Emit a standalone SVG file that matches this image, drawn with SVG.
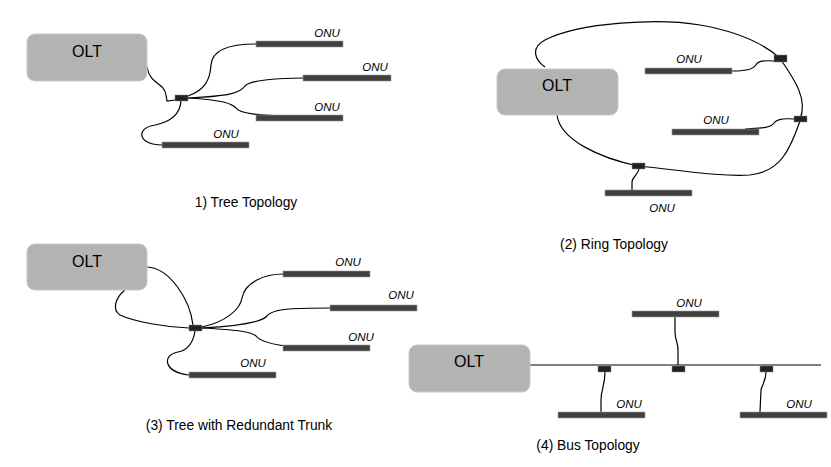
<svg xmlns="http://www.w3.org/2000/svg" width="831" height="467" viewBox="0 0 831 467">
<style>
.olt{fill:#b3b3b3;stroke:#c8c8c8;stroke-width:1}
.olt-t{font-family:"Liberation Sans",Arial,sans-serif;font-size:16px;fill:#000;text-anchor:middle}
.bar{fill:#404040;stroke:#9a9a9a;stroke-width:0.6}
.spl{fill:#222;stroke:#888;stroke-width:0.5}
.onu{font-family:"Liberation Sans",Arial,sans-serif;font-size:11.5px;font-style:italic;fill:#000;text-anchor:middle}
.cap{font-family:"Liberation Sans",Arial,sans-serif;font-size:13.8px;fill:#000;text-anchor:middle}
.ln{fill:none;stroke:#000;stroke-width:1.2}
</style>
<rect width="831" height="467" fill="#fff"/>
<g id="connectors">
<!-- panel 1 -->
<path class="ln" d="M147,67 C150,85 164,82 166,95 L167,101 L175,100"/>
<path class="ln" d="M188,96 C205,90 210,80 211,65 C212,50 230,44 256,44"/>
<path class="ln" d="M188,98 C230,96 240,93 245,86 C250,80 280,78 303,78"/>
<path class="ln" d="M188,98 C225,100 232,104 236,108 C240,114 260,115 283,116"/>
<path class="ln" d="M181,101 C180,115 170,122 155,125 C135,128 138,145 162,145"/>
<!-- panel 2 ring -->
<path class="ln" d="M545,67 C535,60 530,48 545,40 C580,22 660,18 700,25 C740,32 765,45 780,58"/>
<path class="ln" d="M781,60 C795,80 808,100 800,119"/>
<path class="ln" d="M800,121 C790,150 780,172 750,175 C720,177 680,170 638,166"/>
<path class="ln" d="M638,166 C600,158 560,140 557,115"/>
<path class="ln" d="M774,61 C760,60 757,62 755,66 C752,70 742,71 732,71"/>
<path class="ln" d="M794,119 C780,118 776,120 773,124 C770,128 760,128 745,129"/>
<path class="ln" d="M639,169 C638,175 632,177 632,182 L632,190"/>
<!-- panel 3 -->
<path class="ln" d="M147,267 C170,268 190,300 193,325"/>
<path class="ln" d="M125,290 C115,298 112,310 120,315 C135,322 165,327 189,328"/>
<path class="ln" d="M202,327 C225,322 240,310 242,298 C245,282 265,274 283,274"/>
<path class="ln" d="M202,328 C240,326 262,322 267,316 C272,308 300,308 330,308"/>
<path class="ln" d="M202,328 C240,330 252,332 256,336 C262,344 290,347 310,348"/>
<path class="ln" d="M195,331 C193,345 185,351 178,352 C162,355 163,372 189,375"/>
<!-- panel 4 -->
<path class="ln" d="M530,365 L821,365"/>
<path class="ln" d="M605,372 C605,385 601,390 601,400 L601,412"/>
<path class="ln" d="M678,365 L678,350 C678,342 675,340 675,332 L675,317"/>
<path class="ln" d="M766,372 C766,380 763,383 761,390 L760,412"/>
</g>
<!-- panel 1 nodes -->
<g id="olt1"><rect class="olt" x="27" y="34" width="120" height="47" rx="8"/><text class="olt-t" x="87" y="57">OLT</text></g>
<g id="spl1"><rect class="spl" x="175" y="95" width="13" height="6"/></g>
<g id="onu1a"><rect class="bar" x="256" y="41" width="87" height="6"/><text class="onu" x="327" y="37">ONU</text></g>
<g id="onu1b"><rect class="bar" x="303" y="75" width="88" height="6"/><text class="onu" x="375" y="71">ONU</text></g>
<g id="onu1c"><rect class="bar" x="256" y="115" width="87" height="6"/><text class="onu" x="327" y="111">ONU</text></g>
<g id="onu1d"><rect class="bar" x="162" y="142" width="87" height="6"/><text class="onu" x="226" y="138">ONU</text></g>
<text class="cap" x="246" y="207">1) Tree Topology</text>
<!-- panel 2 nodes -->
<g id="olt2"><rect class="olt" x="497" y="69" width="121" height="46" rx="8"/><text class="olt-t" x="557" y="91">OLT</text></g>
<g id="spl2a"><rect class="spl" x="774" y="55" width="13" height="7"/></g>
<g id="spl2b"><rect class="spl" x="794" y="116" width="13" height="6"/></g>
<g id="spl2c"><rect class="spl" x="632" y="163" width="13" height="6"/></g>
<g id="onu2a"><rect class="bar" x="645" y="68" width="87" height="6"/><text class="onu" x="689" y="63">ONU</text></g>
<g id="onu2b"><rect class="bar" x="672" y="129" width="87" height="6"/><text class="onu" x="716" y="124">ONU</text></g>
<g id="onu2c"><rect class="bar" x="605" y="190" width="87" height="6"/><text class="onu" x="662" y="212">ONU</text></g>
<text class="cap" x="614" y="249">(2) Ring Topology</text>
<!-- panel 3 nodes -->
<g id="olt3"><rect class="olt" x="27" y="244" width="120" height="46" rx="8"/><text class="olt-t" x="87" y="267">OLT</text></g>
<g id="spl3"><rect class="spl" x="189" y="325" width="13" height="6"/></g>
<g id="onu3a"><rect class="bar" x="283" y="271" width="87" height="6"/><text class="onu" x="348" y="266">ONU</text></g>
<g id="onu3b"><rect class="bar" x="330" y="305" width="87" height="6"/><text class="onu" x="401" y="299">ONU</text></g>
<g id="onu3c"><rect class="bar" x="283" y="345" width="87" height="6"/><text class="onu" x="361" y="341">ONU</text></g>
<g id="onu3d"><rect class="bar" x="189" y="372" width="87" height="6"/><text class="onu" x="253" y="367">ONU</text></g>
<text class="cap" x="239" y="430">(3) Tree with Redundant Trunk</text>
<!-- panel 4 nodes -->
<g id="olt4"><rect class="olt" x="409" y="345" width="121" height="47" rx="8"/><text class="olt-t" x="469" y="367">OLT</text></g>
<g id="spl4a"><rect class="spl" x="598" y="366" width="13" height="6"/></g>
<g id="spl4b"><rect class="spl" x="672" y="366" width="13" height="6"/></g>
<g id="spl4c"><rect class="spl" x="760" y="366" width="13" height="6"/></g>
<g id="onu4a"><rect class="bar" x="632" y="311" width="87" height="6"/><text class="onu" x="689" y="307">ONU</text></g>
<g id="onu4b"><rect class="bar" x="558" y="412" width="87" height="6"/><text class="onu" x="629" y="408">ONU</text></g>
<g id="onu4c"><rect class="bar" x="740" y="412" width="87" height="6"/><text class="onu" x="799" y="408">ONU</text></g>
<text class="cap" x="588" y="450">(4) Bus Topology</text>
</svg>
